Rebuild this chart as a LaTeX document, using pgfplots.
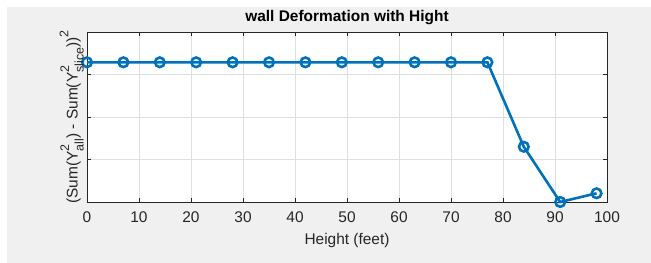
\documentclass[border=0pt]{standalone}
\usepackage{fontspec}
\setmainfont{Liberation Sans}
\usepackage{pgfplots}
\pgfplotsset{compat=1.18}
\definecolor{figbg}{HTML}{F0F0F0}
\definecolor{axcol}{HTML}{262626}
\definecolor{gridcol}{HTML}{DFDFDF}
\definecolor{mblue}{HTML}{0072BD}
\newcommand\supsub[2]{\rlap{\raisebox{0.55em}{\fontsize{12.5}{13}\selectfont #1}}\raisebox{-0.38em}{\fontsize{12.5}{13}\selectfont #2}}
\begin{document}
\begin{tikzpicture}
\fill[white] (0,0) rectangle (651bp,263bp);
\fill[figbg] (7bp,0) rectangle (651bp,256bp);
\begin{axis}[
  at={(87bp,61bp)}, anchor=south west,
  scale only axis, width=520bp, height=170bp,
  xmin=0, xmax=100, ymin=0, ymax=4,
  xtick={0,10,...,100}, ytick={0,1,2,3,4},
  yticklabels={},
  axis background/.style={fill=white},
  axis line style={draw=axcol, line width=0.8bp},
  tick style={draw=axcol, line width=0.8bp},
  major tick length=4bp,
  tick align=inside, tick pos=both,
  grid=major, major grid style={draw=gridcol, line width=0.8bp},
  clip=false,
  font=\fontsize{15.5}{18}\selectfont,
  /pgf/number format/assume math mode=true,
  xticklabel style={anchor=base, yshift=-21bp, text=axcol, inner sep=0pt},
  title={\bfseries wall Deformation with Hight},
  title style={at={(axis description cs:0.5,1)}, anchor=base, yshift=5bp, inner sep=0pt, text=black},
  xlabel={Height (feet)},
  xlabel style={at={(axis description cs:0.5,0)}, anchor=base, yshift=-42bp, inner sep=0pt, text=axcol},
  ylabel={(Sum(Y\supsub{2}{all}) - Sum(Y\supsub{2}{slice}))\raisebox{0.6em}{\fontsize{12.5}{13}\selectfont 2}},
  ylabel style={at={(axis description cs:-0.006,0.5)}, anchor=south, rotate=0, inner sep=0pt, text=axcol},
]
\addplot[mblue, line width=2.6bp, mark=o, mark size=4.8bp, mark options={line width=2.6bp, solid}] coordinates {
(0,3.287) (7,3.287) (14,3.287) (21,3.287) (28,3.287) (35,3.287) (42,3.287) (49,3.287) (56,3.287) (63,3.287) (70,3.287) (77,3.287) (84,1.30) (91,0.0) (98,0.205)
};
\end{axis}
\end{tikzpicture}
\end{document}
